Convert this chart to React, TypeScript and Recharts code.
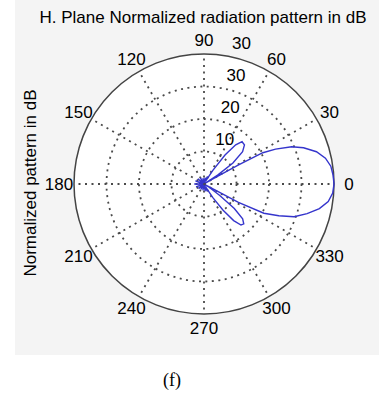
import React from 'react';
import { RadarChart, Radar, PolarGrid, PolarAngleAxis, PolarRadiusAxis } from 'recharts';

// angle in degrees (counter-clockwise from 0) and normalized gain on the 0..40 ring scale
const angles = [
    0, 4, 8, 12, 16, 20, 23, 26, 28, 29, 30, 31, 33, 36, 40, 44, 48, 51, 54, 57, 60,
    65, 70, 80, 90, 100, 110, 120, 130, 140, 150, 160, 170, 180, 190, 200, 210, 220, 230,
    240, 250, 260, 270, 280, 290, 295, 300,
    303, 306, 309, 312, 315, 318, 321, 324, 327, 329, 331, 332, 334, 337, 340, 344, 348, 352, 356,
];
const gain = [
    40, 39.8, 39.4, 38.2, 36, 32.6, 29.3, 24.5, 20.5, 12, 3, 0.5, 5, 11, 15.5, 17.3, 17.5, 15.5, 11, 5, 1,
    2.5, 0.5, 2, 0.3, 1.8, 0.4, 2.2, 0.5, 2.5, 0.3, 2.8, 0.6, 3, 0.5, 2.6, 0.4, 2.2, 0.5,
    1.9, 0.3, 2, 0.4, 2.3, 0.5, 2.5, 1,
    5, 10, 14.5, 17, 17.3, 16, 12, 6, 2, 0.5, 3, 12, 20.5, 25, 29.5, 33, 36.3, 38.6, 39.7,
];

const angleTicks = [0, 30, 60, 90, 120, 150, 180, 210, 240, 270, 300, 330];
const ringTicks = [10, 20, 30, 40];
const ringLabels = ['10', '20', '30', '30'];

const data = angles.map((a, i) => ({ angle: a, gain: gain[i] }));

const CX = 204;
const CY = 184;
const R = 130;
const font = '"Liberation Sans", Arial, sans-serif';

const AngleTick = (props: any) => {
    const { payload } = props;
    if (payload.value === 360) return null;
    const cx = props.cx ?? CX;
    const cy = props.cy ?? CY;
    const rad = (payload.coordinate * Math.PI) / 180;
    const x = cx + (R + 15) * Math.cos(rad);
    const y = cy - (R + 14) * Math.sin(rad);
    return (
        <text x={x} y={y} textAnchor="middle" dominantBaseline="central" fontFamily={font} fontSize={17} fill="#000">
            {payload.value}
        </text>
    );
};

const RingTick = (props: any) => {
    const { x, y, payload } = props;
    const idx = ringTicks.indexOf(payload.value);
    if (idx < 0) return null;
    return (
        <text x={x + 15} y={y - 12} textAnchor="middle" dominantBaseline="central" fontFamily={font} fontSize={17} fill="#000">
            {ringLabels[idx]}
        </text>
    );
};

export default function App() {
    return (
        <div style={{ position: 'absolute', left: 0, top: 0, width: 379, height: 393, background: '#fff' }}>
            <div style={{ position: 'absolute', left: 15, top: 0, width: 364, height: 355, background: '#f4f4f4' }} />
            <div
                style={{
                    position: 'absolute',
                    left: CX - R,
                    top: CY - R,
                    width: R * 2,
                    height: R * 2,
                    borderRadius: '50%',
                    background: '#fff',
                }}
            />
            <div style={{ position: 'absolute', left: 0, top: 0 }}>
                <RadarChart
                    width={379}
                    height={393}
                    data={data}
                    cx={CX}
                    cy={CY}
                    outerRadius={R}
                    startAngle={0}
                    endAngle={360}
                    margin={{ top: 0, right: 0, bottom: 0, left: 0 }}
                >
                    <PolarGrid
                        gridType="circle"
                        polarAngles={angleTicks}
                        polarRadius={[R / 4, R / 2, (3 * R) / 4]}
                        stroke="#4a4a4a"
                        strokeWidth={1.8}
                        strokeDasharray="2 4.5"
                    />
                    <PolarGrid gridType="circle" radialLines={false} polarAngles={[]} polarRadius={[R]} stroke="#444" strokeWidth={1.5} />
                    <PolarAngleAxis
                        dataKey="angle"
                        type="number"
                        domain={[0, 360]}
                        ticks={angleTicks}
                        tickCount={13}
                        axisLine={false}
                        tickLine={false}
                        tick={<AngleTick />}
                    />
                    <PolarRadiusAxis
                        angle={80}
                        domain={[0, 40]}
                        tickCount={5}
                        axisLine={false}
                        tick={<RingTick />}
                    />
                    <Radar dataKey="gain" stroke="#3535cc" strokeWidth={1.4} fill="none" isAnimationActive={false} dot={false} />
                </RadarChart>
            </div>
            <div
                style={{
                    position: 'absolute',
                    left: 0,
                    width: 406,
                    top: 8,
                    textAlign: 'center',
                    fontFamily: font,
                    fontSize: 17,
                    color: '#000',
                }}
            >
                H. Plane Normalized radiation pattern in dB
            </div>
            <div
                style={{
                    position: 'absolute',
                    left: 31,
                    top: 183,
                    transform: 'translate(-50%, -50%) rotate(-90deg)',
                    whiteSpace: 'nowrap',
                    fontFamily: font,
                    fontSize: 17,
                    color: '#000',
                }}
            >
                Normalized pattern in dB
            </div>
            <div
                style={{
                    position: 'absolute',
                    left: 132,
                    width: 80,
                    top: 370,
                    textAlign: 'center',
                    fontFamily: '"Liberation Serif", "Times New Roman", serif',
                    fontSize: 18,
                    color: '#000',
                }}
            >
                (f)
            </div>
        </div>
    );
}
